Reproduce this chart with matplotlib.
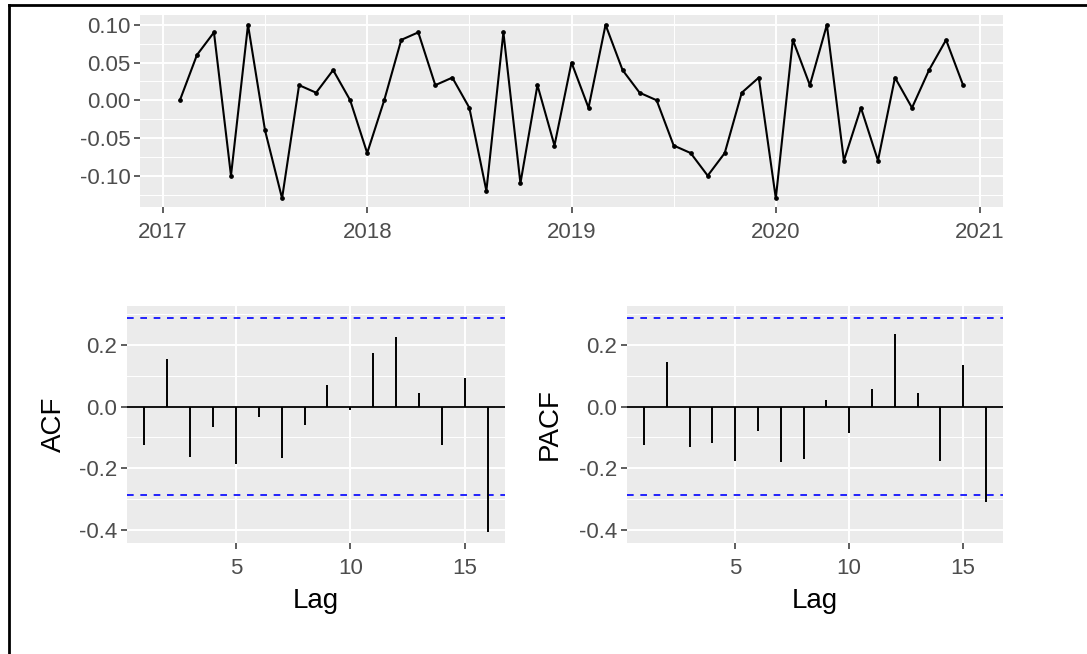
import numpy as np
import matplotlib
matplotlib.use("Agg")
import matplotlib.pyplot as plt
from matplotlib.lines import Line2D

plt.rcParams['font.family'] = ['Liberation Sans', 'DejaVu Sans']

# ---- data ----
series_start = 2017 + 1/12   # Feb 2017, monthly
series_values = [0.00, 0.06, 0.09, -0.10, 0.10, -0.04, -0.13, 0.02, 0.01, 0.04, 0.00,
                 -0.07, 0.00, 0.08, 0.09, 0.02, 0.03, -0.01, -0.12, 0.09, -0.11, 0.02, -0.06,
                 0.05, -0.01, 0.10, 0.04, 0.01, 0.00, -0.06, -0.07, -0.10, -0.07, 0.01, 0.03,
                 -0.13, 0.08, 0.02, 0.10, -0.08, -0.01, -0.08, 0.03, -0.01, 0.04, 0.08, 0.02]
year_ticks = [2017, 2018, 2019, 2020, 2021]
lags = list(range(1, 17))
acf_values = [-0.124, 0.155, -0.162, -0.065, -0.186, -0.035, -0.168, -0.059,
              0.069, -0.011, 0.173, 0.227, 0.045, -0.125, 0.094, -0.405]
pacf_values = [-0.125, 0.143, -0.132, -0.119, -0.175, -0.078, -0.181, -0.169,
               0.022, -0.084, 0.057, 0.235, 0.045, -0.175, 0.136, -0.308]
conf_limit = 0.286

W, H = 1087, 654
fig = plt.figure(figsize=(W / 100, H / 100), dpi=100)
fig.patch.set_facecolor('white')

def px_axes(l, t, r, b):
    return fig.add_axes([l / W, 1 - b / H, (r - l) / W, (b - t) / H])

TICK_COLOR = '#4D4D4D'
TICK_FS = 16
TITLE_FS = 20

def style(ax):
    ax.set_facecolor('#EBEBEB')
    for s in ax.spines.values():
        s.set_visible(False)
    ax.tick_params(axis='both', which='major', length=4.5, width=1.1, color='#333333',
                   labelcolor=TICK_COLOR, labelsize=TICK_FS, pad=2.5)
    ax.tick_params(axis='x', which='major', pad=6)
    ax.tick_params(axis='both', which='minor', length=0)
    ax.grid(True, which='major', color='white', linewidth=1.4)
    ax.set_axisbelow(True)

# ---- top: time series ----
ax1 = px_axes(140, 15, 1003, 207)
style(ax1)
n = len(series_values)
times = series_start + np.arange(n) / 12
ax1.plot(times, series_values, color='black', linewidth=1.5, marker='o', markersize=2.4, zorder=3)
ax1.set_xlim(2016.888, 2021.112)
ax1.set_ylim(-0.1415, 0.113)
ax1.set_xticks(year_ticks)
ax1.set_xticklabels([str(y) for y in year_ticks])
ax1.set_yticks([-0.10, -0.05, 0.00, 0.05, 0.10])
ax1.set_yticklabels(['-0.10', '-0.05', '0.00', '0.05', '0.10'])
ax1.set_xticks([2017.5, 2018.5, 2019.5, 2020.5], minor=True)
ax1.set_yticks([-0.125, -0.075, -0.025, 0.025, 0.075], minor=True)
ax1.grid(True, which='minor', color='white', linewidth=0.7)

# ---- bottom: ACF / PACF ----
def acf_panel(ax, vals, label, ypad):
    style(ax)
    ax.set_xlim(0.25, 16.75)
    ax.set_ylim(-0.442, 0.326)
    ax.axhline(0, color='black', linewidth=1.3, zorder=2)
    ax.vlines(lags, 0, vals, color='black', linewidth=1.4, zorder=3)
    for c in (conf_limit, -conf_limit):
        ax.axhline(c, color='#0000FF', linewidth=1.2, linestyle=(0, (4, 4)), zorder=2)
    ax.set_xticks([5, 10, 15])
    ax.set_yticks([-0.4, -0.2, 0.0, 0.2])
    ax.set_yticklabels(['-0.4', '-0.2', '0.0', '0.2'])
    ax.set_yticks([-0.3, -0.1, 0.1, 0.3], minor=True)
    ax.grid(True, which='minor', axis='y', color='white', linewidth=0.7)
    ax.set_xlabel('Lag', fontsize=TITLE_FS, color='black', labelpad=7)
    ax.set_ylabel(label, fontsize=TITLE_FS, color='black', labelpad=ypad)

ax2 = px_axes(127, 306, 505, 543)
acf_panel(ax2, acf_values, 'ACF', 9)
ax3 = px_axes(627, 306, 1003, 543)
acf_panel(ax3, pacf_values, 'PACF', 12)

# ---- screenshot border (left and top edges) ----
fig.add_artist(Line2D([9 / W, 9 / W], [0, 1 - 5 / H], transform=fig.transFigure,
                      color='black', linewidth=2.0))
fig.add_artist(Line2D([9 / W, 1], [1 - 5 / H, 1 - 5 / H], transform=fig.transFigure,
                      color='black', linewidth=2.0))

fig.savefig('out.png', dpi=100, facecolor='white')
